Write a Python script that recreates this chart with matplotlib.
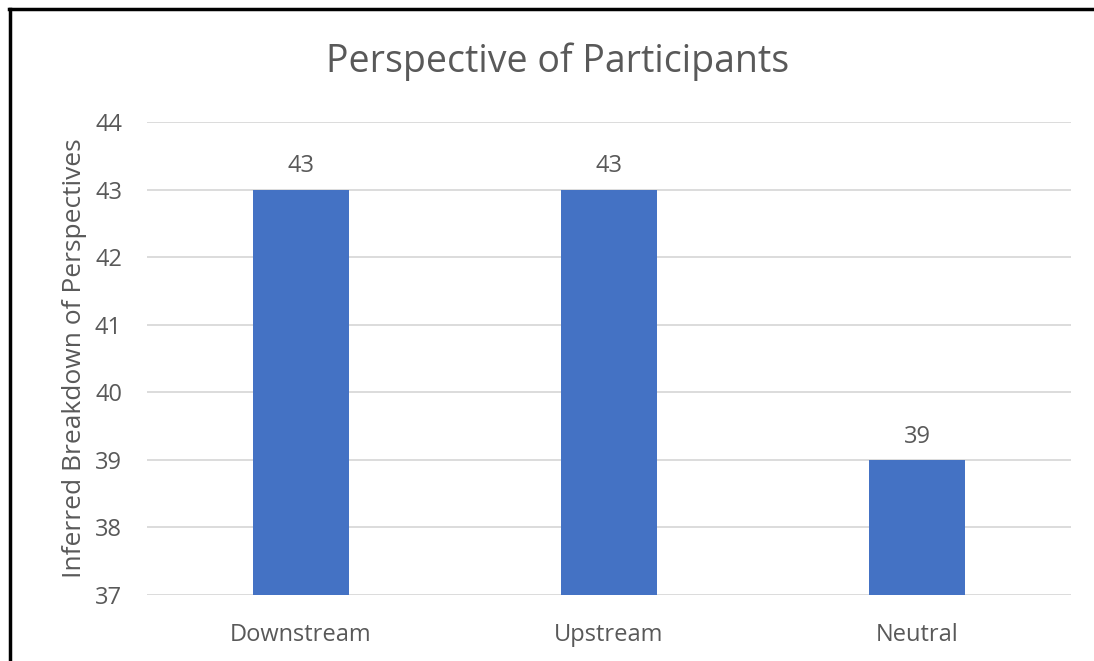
import matplotlib.pyplot as plt
from matplotlib.lines import Line2D

categories = ["Downstream", "Upstream", "Neutral"]
values = [43, 43, 39]
y_ticks = [37, 38, 39, 40, 41, 42, 43, 44]

plt.rcParams['font.family'] = ['Open Sans', 'DejaVu Sans']
text_color = '#595959'

fig = plt.figure(figsize=(10.94, 6.61), dpi=100)
ax = fig.add_axes([0.1344, 0.0998, 0.8446, 0.7156])

x = range(len(categories))
bars = ax.bar(x, values, width=0.31, color='#4472C4', zorder=3)
ax.set_xlim(-0.5, len(categories) - 0.5)
ax.set_ylim(37, 44)
ax.set_yticks(y_ticks)
ax.set_xticks(list(x))
ax.set_xticklabels(categories)

for b, v in zip(bars, values):
    ax.annotate(str(v), (b.get_x() + b.get_width() / 2, v), xytext=(0, 8),
                textcoords='offset points', ha='center', va='bottom',
                fontsize=17, color=text_color)

ax.grid(axis='y', color='#D9D9D9', linewidth=1.3, zorder=0)
for s in ax.spines.values():
    s.set_visible(False)
ax.tick_params(axis='both', length=0, labelsize=17, labelcolor=text_color)
ax.tick_params(axis='y', pad=18)
ax.tick_params(axis='x', pad=20)
ax.set_ylabel("Inferred Breakdown of Perspectives", fontsize=19, color=text_color, labelpad=6)

fig.text(0.51, 0.906, "Perspective of Participants", ha='center', va='center',
         fontsize=27, color=text_color)

# border on top and left only
fig.add_artist(Line2D([0.009, 0.009], [0, 0.987], transform=fig.transFigure, color='black', lw=2.5))
fig.add_artist(Line2D([0.008, 1.0], [0.987, 0.987], transform=fig.transFigure, color='black', lw=2.5))

fig.savefig("out.png", dpi=100)
